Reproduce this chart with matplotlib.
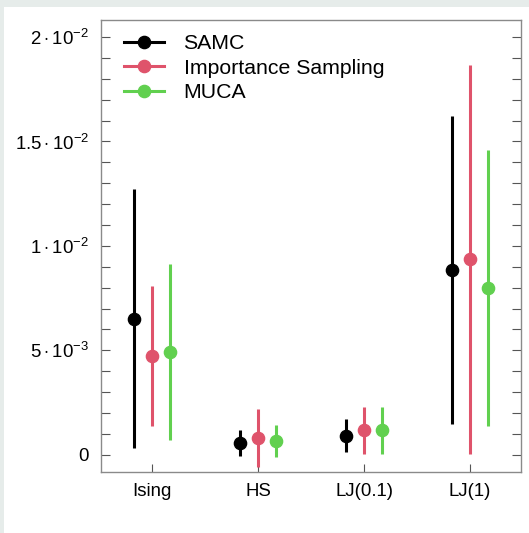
import matplotlib
matplotlib.use("Agg")
import matplotlib.pyplot as plt
from matplotlib.lines import Line2D
from matplotlib.patches import Rectangle
from matplotlib.ticker import FixedLocator, MultipleLocator
import numpy as np

plt.rcParams['font.family'] = ['Liberation Sans', 'DejaVu Sans']
plt.rcParams['mathtext.fontset'] = 'custom'
plt.rcParams['mathtext.rm'] = 'Liberation Sans'
plt.rcParams['mathtext.it'] = 'Liberation Sans:italic'
plt.rcParams['mathtext.bf'] = 'Liberation Sans:bold'

# Systems compared and the relative error of each sampling method
systems = ["Ising", "HS", "LJ(0.1)", "LJ(1)"]
methods = ["SAMC", "Importance Sampling", "MUCA"]
colors = ["#000000", "#DF536B", "#61D04F"]

samc_mean = [0.00651, 0.00057, 0.00092, 0.00883]
samc_err = [0.00619, 0.00061, 0.00080, 0.00737]
is_mean = [0.00474, 0.00081, 0.00117, 0.00936]
is_err = [0.00336, 0.00138, 0.00114, 0.00930]
muca_mean = [0.00494, 0.00065, 0.00117, 0.00798]
muca_err = [0.00421, 0.00076, 0.00111, 0.00660]

means = [samc_mean, is_mean, muca_mean]
errs = [samc_err, is_err, muca_err]

ytick_vals = [0, 0.005, 0.01, 0.015, 0.02]
ytick_labels = ["0", r"$5\cdot10^{-3}$", r"$1\cdot10^{-2}$",
                r"$1.5\cdot10^{-2}$", r"$2\cdot10^{-2}$"]

W, H = 529, 533
fig = plt.figure(figsize=(W / 100, H / 100), dpi=100)
fig.patch.set_facecolor("white")
band = "#e6ecea"
fig.patches.append(Rectangle((0, 1 - 7 / H), 1, 7 / H, transform=fig.transFigure,
                             facecolor=band, edgecolor="none", zorder=0))
fig.patches.append(Rectangle((0, 0), 4 / W, 1, transform=fig.transFigure,
                             facecolor=band, edgecolor="none", zorder=0))

left, right, top, bottom = 101, 521, 20.3, 471.5
ax = fig.add_axes([left / W, 1 - bottom / H, (right - left) / W, (bottom - top) / H])

x = np.arange(1, len(systems) + 1)
offsets = [-0.17, 0.0, 0.17]
lw = 2.2
ms = 8.8
for m, c, off, mu, e in zip(methods, colors, offsets, means, errs):
    ax.errorbar(x + off, mu, yerr=e, fmt="o", color=c, ecolor=c,
                elinewidth=lw, markersize=ms, capsize=0, label=m)

ax.set_xlim(0.52, 4.48)
ax.set_ylim(-0.0008, 0.0208)

ax.xaxis.set_major_locator(FixedLocator(x))
ax.set_xticklabels(systems)
ax.yaxis.set_major_locator(FixedLocator(ytick_vals))
ax.set_yticklabels(ytick_labels)
ax.yaxis.set_minor_locator(MultipleLocator(0.001))

spine_col = "#8a8a8a"
for s in ax.spines.values():
    s.set_color(spine_col)
    s.set_linewidth(1.0)

ax.tick_params(axis="y", which="both", direction="in", length=6.5, width=0.8,
               color="#555555", left=True, right=True, labelsize=13.4, pad=8.5)
ax.tick_params(axis="x", which="both", direction="in", length=6, width=0.8,
               color="#555555", top=False, bottom=True, labelsize=13.4, pad=8.5)

handles = [Line2D([0], [0], color=c, lw=lw, marker="o", markersize=ms)
           for c in colors]
leg = ax.legend(handles, methods, loc="upper left", frameon=False,
                bbox_to_anchor=((124 - left) / (right - left), 1 - (34 - top) / (bottom - top)),
                borderaxespad=0, borderpad=0, handlelength=1.9, handletextpad=0.9,
                labelspacing=0.27, fontsize=15.3)

fig.savefig("out.png", dpi=100)
